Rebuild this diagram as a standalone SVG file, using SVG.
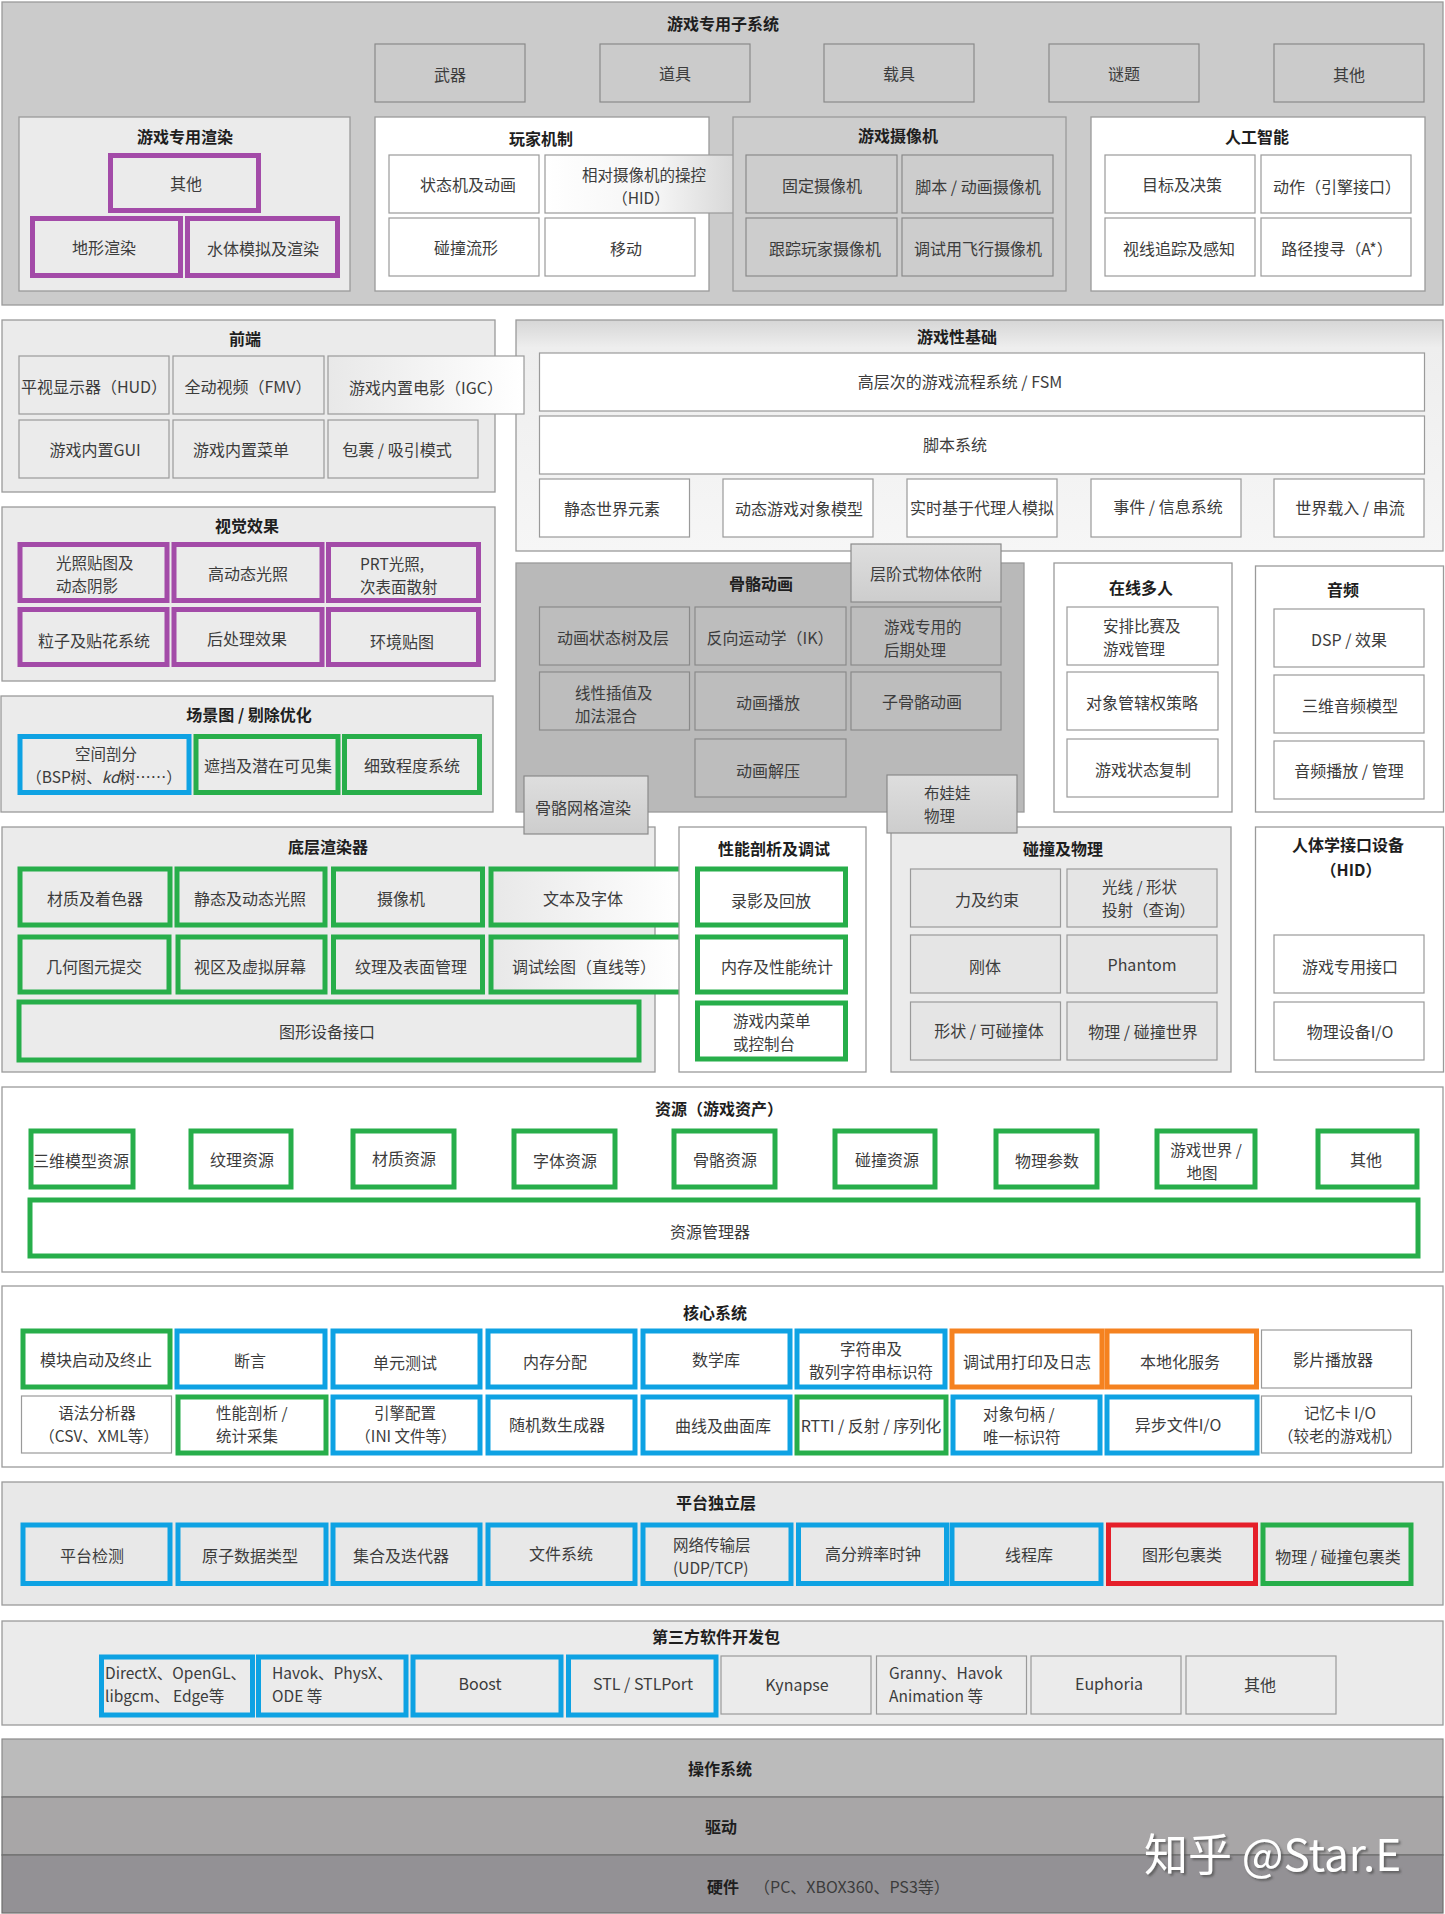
<svg xmlns="http://www.w3.org/2000/svg" width="1445" height="1914" viewBox="0 0 1445 1914">
<style>
text{font-family:"Noto Sans CJK SC","Noto Sans",sans-serif;font-size:16px;fill:#3c3c3c;text-anchor:middle;dominant-baseline:central}
.h{font-weight:bold;fill:#1e1e1e}
.l{text-anchor:start}
.m{font-size:15.5px}
.sec{stroke:#9a9a9a;stroke-width:1.3}
.box{stroke:#9a9a9a;stroke-width:1.2}
.dk{stroke:#8a8a8a;stroke-width:1.2}
.pu{stroke:#a34ba8;stroke-width:5}
.gr{stroke:#27ae4a;stroke-width:5}
.bl{stroke:#0ea2e3;stroke-width:5}
.or{stroke:#f58220;stroke-width:5}
.rd{stroke:#e51f2a;stroke-width:5}
.wm{font-size:44px;fill:#ffffff;text-anchor:start;filter:url(#sh)}
</style>
<defs>
<linearGradient id="gHID" x1="0" y1="0" x2="1" y2="0"><stop offset="0" stop-color="#ffffff"/><stop offset="0.6" stop-color="#f4f4f4"/><stop offset="1" stop-color="#d6d6d6"/></linearGradient>
<linearGradient id="gIGC" x1="0" y1="0" x2="1" y2="0"><stop offset="0" stop-color="#e8e8e8"/><stop offset="1" stop-color="#ffffff"/></linearGradient>
<linearGradient id="gGP" x1="0" y1="0" x2="0" y2="1"><stop offset="0" stop-color="#d6d6d6"/><stop offset="0.12" stop-color="#eeeeee"/><stop offset="1" stop-color="#f6f6f6"/></linearGradient>
<linearGradient id="gGy" x1="0" y1="0" x2="0" y2="1"><stop offset="0" stop-color="#dedede"/><stop offset="1" stop-color="#cdcdcd"/></linearGradient>
<linearGradient id="gTx" x1="0" y1="0" x2="1" y2="0"><stop offset="0" stop-color="#e8e8e8"/><stop offset="1" stop-color="#ffffff"/></linearGradient>
<filter id="sh" x="-10%" y="-20%" width="120%" height="150%"><feDropShadow dx="2" dy="2" stdDeviation="1" flood-color="#555555" flood-opacity="0.8"/></filter>
</defs>

<g id="game-subsystems">
<rect class="sec" x="2" y="2" width="1441" height="303" fill="#cbcbcb" stroke="#8e8e8e"/>
<text class="h" x="723" y="23">游戏专用子系统</text>
<g id="weapon"><rect class="dk" x="375" y="44" width="150" height="58" fill="#cbcbcb"/><text x="450" y="74">武器</text></g>
<g id="item"><rect class="dk" x="600" y="44" width="150" height="58" fill="#cbcbcb"/><text x="675" y="73">道具</text></g>
<g id="vehicle"><rect class="dk" x="824" y="44" width="150" height="58" fill="#cbcbcb"/><text x="899" y="73">载具</text></g>
<g id="puzzle"><rect class="dk" x="1049" y="44" width="150" height="58" fill="#cbcbcb"/><text x="1124" y="73">谜题</text></g>
<g id="other-top"><rect class="dk" x="1274" y="44" width="150" height="58" fill="#cbcbcb"/><text x="1349" y="74">其他</text></g>
</g>

<g id="game-rendering">
<rect class="sec" x="19" y="117" width="331" height="174" fill="#ebebeb"/>
<text class="h" x="185" y="136">游戏专用渲染</text>
<g id="render-other"><rect class="pu" x="110.5" y="155.5" width="148" height="55" fill="#ebebeb"/><text x="186" y="183">其他</text></g>
<g id="terrain"><rect class="pu" x="32.5" y="218.5" width="148" height="57" fill="#ebebeb"/><text x="104" y="247">地形渲染</text></g>
<g id="water"><rect class="pu" x="187.5" y="218.5" width="150" height="57" fill="#ebebeb"/><text x="263" y="248">水体模拟及渲染</text></g>
</g>

<g id="player-mechanics">
<rect class="sec" x="375" y="117" width="334" height="174" fill="#ffffff"/>
<text class="h" x="541" y="138">玩家机制</text>
<g id="state-machine"><rect class="box" x="389" y="155" width="150" height="58" fill="#ffffff"/><text x="468" y="184">状态机及动画</text></g>
<g id="camera-control"><rect class="box" x="545" y="155" width="193" height="58" fill="url(#gHID)"/><text class="m"><tspan x="644" y="174">相对摄像机的操控</tspan><tspan x="641" y="197">（HID）</tspan></text></g>
<g id="collision-manifold"><rect class="box" x="389" y="218" width="150" height="58" fill="#ffffff"/><text x="466" y="247">碰撞流形</text></g>
<g id="movement"><rect class="box" x="545" y="218" width="150" height="58" fill="#ffffff"/><text x="626" y="248">移动</text></g>
</g>

<g id="game-cameras">
<rect class="sec" x="733" y="117" width="333" height="174" fill="#cdcdcd"/>
<text class="h" x="898" y="135">游戏摄像机</text>
<g id="fixed-cam"><rect class="dk" x="746" y="155" width="151" height="58" fill="#cdcdcd"/><text x="822" y="185">固定摄像机</text></g>
<g id="script-cam"><rect class="dk" x="902" y="155" width="151" height="58" fill="#cdcdcd"/><text x="978" y="186">脚本 / 动画摄像机</text></g>
<g id="follow-cam"><rect class="dk" x="746" y="218" width="151" height="58" fill="#cdcdcd"/><text x="825" y="248">跟踪玩家摄像机</text></g>
<g id="debug-cam"><rect class="dk" x="902" y="218" width="151" height="58" fill="#cdcdcd"/><text x="978" y="248">调试用飞行摄像机</text></g>
</g>

<g id="ai">
<rect class="sec" x="1091" y="117" width="334" height="174" fill="#ffffff"/>
<text class="h" x="1257" y="136">人工智能</text>
<g id="goals"><rect class="box" x="1105" y="155" width="150" height="58" fill="#ffffff"/><text x="1182" y="184">目标及决策</text></g>
<g id="actions"><rect class="box" x="1261" y="155" width="150" height="58" fill="#ffffff"/><text x="1337" y="186">动作（引擎接口）</text></g>
<g id="sight"><rect class="box" x="1105" y="218" width="150" height="58" fill="#ffffff"/><text x="1179" y="248">视线追踪及感知</text></g>
<g id="pathfind"><rect class="box" x="1261" y="218" width="150" height="58" fill="#ffffff"/><text x="1337" y="248">路径搜寻（A*）</text></g>
</g>

<g id="gameplay-foundations">
<rect class="sec" x="516" y="320" width="927" height="231" fill="url(#gGP)"/>
<text class="h" x="957" y="336">游戏性基础</text>
<g id="fsm"><rect class="box" x="539.5" y="353" width="885" height="58" fill="#ffffff"/><text x="960" y="381">高层次的游戏流程系统 / FSM</text></g>
<g id="scripting"><rect class="box" x="539.5" y="416" width="885" height="58" fill="#ffffff"/><text x="955" y="444">脚本系统</text></g>
<g id="static-world"><rect class="box" x="539.5" y="479" width="150" height="58" fill="#ffffff"/><text x="612" y="508">静态世界元素</text></g>
<g id="dynamic-objects"><rect class="box" x="723" y="479" width="150" height="58" fill="#ffffff"/><text x="799" y="508">动态游戏对象模型</text></g>
<g id="agent-sim"><rect class="box" x="907" y="479" width="150" height="58" fill="#ffffff"/><text x="982" y="507">实时基于代理人模拟</text></g>
<g id="events"><rect class="box" x="1091" y="479" width="150" height="58" fill="#ffffff"/><text x="1168" y="506">事件 / 信息系统</text></g>
<g id="world-loading"><rect class="box" x="1274" y="479" width="150" height="58" fill="#ffffff"/><text x="1350" y="507">世界载入 / 串流</text></g>
</g>

<g id="front-end">
<rect class="sec" x="2" y="320" width="493" height="172" fill="#ebebeb"/>
<text class="h" x="245" y="338">前端</text>
<g id="hud"><rect class="box" x="19" y="356" width="150" height="58" fill="#ebebeb"/><text x="94" y="386">平视显示器（HUD）</text></g>
<g id="fmv"><rect class="box" x="173" y="356" width="151" height="58" fill="#ebebeb"/><text x="248" y="386">全动视频（FMV）</text></g>
<g id="igc"><rect class="box" x="328" y="356" width="196" height="58" fill="url(#gIGC)"/><text x="426" y="387">游戏内置电影（IGC）</text></g>
<g id="gui"><rect class="box" x="19" y="420" width="150" height="58" fill="#ebebeb"/><text x="95" y="449">游戏内置GUI</text></g>
<g id="menu"><rect class="box" x="173" y="420" width="151" height="58" fill="#ebebeb"/><text x="241" y="449">游戏内置菜单</text></g>
<g id="wrapper"><rect class="box" x="328" y="420" width="150" height="58" fill="#ebebeb"/><text x="397" y="449">包裹 / 吸引模式</text></g>
</g>

<g id="visual-effects">
<rect class="sec" x="2" y="507" width="493" height="174" fill="#ebebeb"/>
<text class="h" x="247" y="525">视觉效果</text>
<g id="lightmap"><rect class="pu" x="20" y="544.5" width="147" height="56" fill="#ebebeb"/><text class="l m"><tspan x="56" y="561.5">光照贴图及</tspan><tspan x="56" y="584.5">动态阴影</tspan></text></g>
<g id="hdr"><rect class="pu" x="174" y="544.5" width="148" height="56" fill="#ebebeb"/><text x="248" y="573">高动态光照</text></g>
<g id="prt"><rect class="pu" x="328.5" y="544.5" width="150" height="56" fill="#ebebeb"/><text class="l m"><tspan x="360" y="563">PRT光照,</tspan><tspan x="360" y="586">次表面散射</tspan></text></g>
<g id="particles"><rect class="pu" x="20" y="609.5" width="147" height="55" fill="#ebebeb"/><text x="94" y="640">粒子及贴花系统</text></g>
<g id="post"><rect class="pu" x="174" y="609.5" width="148" height="55" fill="#ebebeb"/><text x="247" y="638">后处理效果</text></g>
<g id="envmap"><rect class="pu" x="328.5" y="609.5" width="150" height="55" fill="#ebebeb"/><text x="402" y="641">环境贴图</text></g>
</g>

<g id="scene-graph">
<rect class="sec" x="1" y="696" width="492" height="116" fill="#ebebeb"/>
<text class="h" x="249" y="714">场景图 / 剔除优化</text>
<g id="spatial"><rect class="bl" x="20" y="736.5" width="169" height="56" fill="#ebebeb"/><text class="m"><tspan x="106" y="753">空间剖分</tspan><tspan x="104" y="776">（BSP树、<tspan font-style="italic">kd</tspan>树……）</tspan></text></g>
<g id="occlusion"><rect class="gr" x="196" y="736.5" width="142" height="56" fill="#ebebeb"/><text x="268" y="765">遮挡及潜在可见集</text></g>
<g id="lod"><rect class="gr" x="344.5" y="736.5" width="135" height="56" fill="#ebebeb"/><text x="412" y="765">细致程度系统</text></g>
</g>

<g id="skeletal-animation">
<rect class="sec" x="516" y="563" width="508" height="249" fill="#b9b9b9" stroke="#8a8a8a"/>
<text class="h" x="761" y="583">骨骼动画</text>
<g id="anim-tree"><rect class="dk" x="539.5" y="607" width="150" height="58" fill="#bdbdbd"/><text x="613" y="637">动画状态树及层</text></g>
<g id="ik"><rect class="dk" x="695" y="607" width="151" height="58" fill="#bdbdbd"/><text x="770" y="637">反向运动学（IK）</text></g>
<g id="post-proc"><rect class="dk" x="851" y="607" width="150" height="58" fill="#bdbdbd"/><text class="l m"><tspan x="884" y="625.5">游戏专用的</tspan><tspan x="884" y="648.5">后期处理</tspan></text></g>
<g id="lerp"><rect class="dk" x="539.5" y="672" width="150" height="58" fill="#bdbdbd"/><text class="l m"><tspan x="575" y="691.5">线性插值及</tspan><tspan x="575" y="714.5">加法混合</tspan></text></g>
<g id="playback"><rect class="dk" x="695" y="672" width="151" height="58" fill="#bdbdbd"/><text x="768" y="702">动画播放</text></g>
<g id="sub-skeletal"><rect class="dk" x="851" y="672" width="150" height="58" fill="#bdbdbd"/><text x="922" y="701">子骨骼动画</text></g>
<g id="decompress"><rect class="dk" x="695" y="739" width="151" height="58" fill="#bdbdbd"/><text x="768" y="770">动画解压</text></g>
<g id="hierarchy"><rect class="dk" x="851" y="544" width="150" height="58" fill="url(#gGy)"/><text x="926" y="573">层阶式物体依附</text></g>
</g>

<g id="online">
<rect class="sec" x="1054" y="563" width="178" height="249" fill="#ffffff"/>
<text class="h" x="1141" y="587">在线多人</text>
<g id="matchmaking"><rect class="box" x="1067" y="607" width="151" height="58" fill="#ffffff"/><text class="l m"><tspan x="1103" y="624.5">安排比赛及</tspan><tspan x="1103" y="647.5">游戏管理</tspan></text></g>
<g id="authority"><rect class="box" x="1067" y="672" width="151" height="58" fill="#ffffff"/><text x="1142" y="702">对象管辖权策略</text></g>
<g id="replication"><rect class="box" x="1067" y="739" width="151" height="58" fill="#ffffff"/><text x="1143" y="769">游戏状态复制</text></g>
</g>

<g id="audio">
<rect class="sec" x="1255.5" y="566" width="188" height="246" fill="#ffffff"/>
<text class="h" x="1343" y="589">音频</text>
<g id="dsp"><rect class="box" x="1274" y="609" width="150" height="58" fill="#ffffff"/><text x="1349" y="639">DSP / 效果</text></g>
<g id="audio3d"><rect class="box" x="1274" y="675" width="150" height="58" fill="#ffffff"/><text x="1350" y="705">三维音频模型</text></g>
<g id="audio-play"><rect class="box" x="1274" y="741" width="150" height="58" fill="#ffffff"/><text x="1349" y="770">音频播放 / 管理</text></g>
</g>

<g id="low-level-renderer">
<rect class="sec" x="2" y="827" width="653" height="245" fill="#ebebeb"/>
<text class="h" x="328" y="846">底层渲染器</text>
<g id="materials"><rect class="gr" x="20" y="869" width="150" height="56" fill="#ebebeb"/><text x="95" y="898">材质及着色器</text></g>
<g id="lighting"><rect class="gr" x="177" y="869" width="148" height="56" fill="#ebebeb"/><text x="250" y="898">静态及动态光照</text></g>
<g id="cameras"><rect class="gr" x="333.5" y="869" width="149" height="56" fill="#ebebeb"/><text x="401" y="898">摄像机</text></g>
<g id="text-fonts"><rect class="gr" x="491" y="869" width="192" height="56" fill="url(#gTx)"/><text x="583" y="898">文本及字体</text></g>
<g id="primitives"><rect class="gr" x="20" y="937" width="149" height="55" fill="#ebebeb"/><text x="94" y="966">几何图元提交</text></g>
<g id="viewports"><rect class="gr" x="178" y="937" width="147" height="55" fill="#ebebeb"/><text x="250" y="966">视区及虚拟屏幕</text></g>
<g id="textures"><rect class="gr" x="333.5" y="937" width="149" height="55" fill="#ebebeb"/><text x="411" y="966">纹理及表面管理</text></g>
<g id="debug-draw"><rect class="gr" x="491" y="937" width="192" height="55" fill="url(#gTx)"/><text x="584" y="966">调试绘图（直线等）</text></g>
<g id="gdi"><rect class="gr" x="19" y="1002" width="620" height="58" fill="#ebebeb"/><text x="327" y="1031">图形设备接口</text></g>
</g>

<g id="profiling">
<rect class="sec" x="679" y="827" width="187" height="245" fill="#ffffff"/>
<text class="h" x="774" y="848">性能剖析及调试</text>
<g id="recording"><rect class="gr" x="697.5" y="869" width="148" height="56" fill="#ffffff"/><text x="771" y="900">录影及回放</text></g>
<g id="mem-stats"><rect class="gr" x="697.5" y="937" width="148" height="55" fill="#ffffff"/><text x="777" y="966">内存及性能统计</text></g>
<g id="console"><rect class="gr" x="697.5" y="1003" width="148" height="56" fill="#ffffff"/><text class="l m"><tspan x="733" y="1019.5">游戏内菜单</tspan><tspan x="733" y="1042.5">或控制台</tspan></text></g>
</g>

<g id="collision-physics">
<rect class="sec" x="891" y="827" width="340" height="245" fill="#ebebeb"/>
<text class="h" x="1063" y="848">碰撞及物理</text>
<g id="forces"><rect class="box" x="910.5" y="869" width="150" height="58" fill="#e5e5e5"/><text x="987" y="899">力及约束</text></g>
<g id="raycast"><rect class="box" x="1067" y="869" width="150" height="58" fill="#e5e5e5"/><text class="l m"><tspan x="1102" y="886">光线 / 形状</tspan><tspan x="1102" y="909">投射（查询）</tspan></text></g>
<g id="rigid"><rect class="box" x="910.5" y="935" width="150" height="58" fill="#e5e5e5"/><text x="985" y="966">刚体</text></g>
<g id="phantom"><rect class="box" x="1067" y="935" width="150" height="58" fill="#e5e5e5"/><text x="1142" y="964">Phantom</text></g>
<g id="shapes"><rect class="box" x="910.5" y="1002" width="150" height="58" fill="#e5e5e5"/><text x="989" y="1030">形状 / 可碰撞体</text></g>
<g id="phys-world"><rect class="box" x="1067" y="1002" width="150" height="58" fill="#e5e5e5"/><text x="1143" y="1031">物理 / 碰撞世界</text></g>
</g>

<g id="hid">
<rect class="sec" x="1255.5" y="827" width="188" height="245" fill="#ffffff"/>
<text class="h"><tspan x="1348" y="844">人体学接口设备</tspan><tspan x="1351" y="869">（HID）</tspan></text>
<g id="game-if"><rect class="box" x="1274" y="935" width="150" height="58" fill="#ffffff"/><text x="1350" y="966">游戏专用接口</text></g>
<g id="phys-io"><rect class="box" x="1274" y="1002" width="150" height="58" fill="#ffffff"/><text x="1350" y="1031">物理设备I/O</text></g>
</g>

<g id="skinning"><rect class="dk" x="524" y="776" width="124" height="58" fill="url(#gGy)"/><text x="583" y="807">骨骼网格渲染</text></g>
<g id="ragdoll"><rect class="dk" x="887" y="775" width="130" height="58" fill="url(#gGy)"/><text class="l m"><tspan x="924" y="792">布娃娃</tspan><tspan x="924" y="815">物理</tspan></text></g>

<g id="resources">
<rect class="sec" x="2" y="1087" width="1441" height="185" fill="#ffffff"/>
<text class="h" x="719" y="1108">资源（游戏资产）</text>
<g id="res-model"><rect class="gr" x="31" y="1131" width="102" height="56" fill="#ffffff"/><text x="81" y="1160">三维模型资源</text></g>
<g id="res-texture"><rect class="gr" x="191" y="1131" width="100" height="56" fill="#ffffff"/><text x="242" y="1159">纹理资源</text></g>
<g id="res-material"><rect class="gr" x="353" y="1131" width="101" height="56" fill="#ffffff"/><text x="404" y="1158">材质资源</text></g>
<g id="res-font"><rect class="gr" x="514" y="1131" width="101" height="56" fill="#ffffff"/><text x="565" y="1160">字体资源</text></g>
<g id="res-skeleton"><rect class="gr" x="674" y="1131" width="101" height="56" fill="#ffffff"/><text x="725" y="1159">骨骼资源</text></g>
<g id="res-collision"><rect class="gr" x="835" y="1131" width="100" height="56" fill="#ffffff"/><text x="887" y="1159">碰撞资源</text></g>
<g id="res-physics"><rect class="gr" x="996" y="1131" width="101" height="56" fill="#ffffff"/><text x="1047" y="1160">物理参数</text></g>
<g id="res-world"><rect class="gr" x="1157" y="1131" width="98" height="56" fill="#ffffff"/><text class="m"><tspan x="1206" y="1148.5">游戏世界 /</tspan><tspan x="1202" y="1171.5">地图</tspan></text></g>
<g id="res-other"><rect class="gr" x="1318" y="1131" width="99" height="56" fill="#ffffff"/><text x="1366" y="1159">其他</text></g>
<g id="res-manager"><rect class="gr" x="30" y="1200" width="1388" height="56" fill="#ffffff"/><text x="710" y="1231">资源管理器</text></g>
</g>

<g id="core-systems">
<rect class="sec" x="2" y="1286" width="1441" height="181" fill="#ffffff"/>
<text class="h" x="715" y="1312">核心系统</text>
<g id="module-startup"><rect class="gr" x="23" y="1331" width="147" height="56" fill="#ffffff"/><text x="96" y="1359">模块启动及终止</text></g>
<g id="assert"><rect class="bl" x="177" y="1331" width="148" height="56" fill="#ffffff"/><text x="250" y="1360">断言</text></g>
<g id="unit-test"><rect class="bl" x="333" y="1331" width="147" height="56" fill="#ffffff"/><text x="405" y="1362">单元测试</text></g>
<g id="mem-alloc"><rect class="bl" x="488" y="1331" width="147" height="56" fill="#ffffff"/><text x="555" y="1361">内存分配</text></g>
<g id="math"><rect class="bl" x="643" y="1331" width="147" height="56" fill="#ffffff"/><text x="716" y="1359">数学库</text></g>
<g id="strings"><rect class="bl" x="797" y="1331" width="148" height="56" fill="#ffffff"/><text class="m"><tspan x="871" y="1347.5">字符串及</tspan><tspan x="871" y="1370.5">散列字符串标识符</tspan></text></g>
<g id="debug-print"><rect class="or" x="952" y="1331" width="150" height="56" fill="#ffffff"/><text x="1027" y="1361">调试用打印及日志</text></g>
<g id="localization"><rect class="or" x="1107" y="1331" width="149.5" height="56" fill="#ffffff"/><text x="1180" y="1361">本地化服务</text></g>
<g id="movie"><rect class="box" x="1261.5" y="1330" width="150" height="58" fill="#ffffff"/><text x="1333" y="1359">影片播放器</text></g>
<g id="parsers"><rect class="box" x="21.5" y="1396" width="150" height="57" fill="#ffffff"/><text class="m"><tspan x="97" y="1411.5">语法分析器</tspan><tspan x="99" y="1434.5">（CSV、XML等）</tspan></text></g>
<g id="profiling-core"><rect class="gr" x="178" y="1397" width="148" height="56" fill="#ffffff"/><text class="l m"><tspan x="216" y="1411.5">性能剖析 /</tspan><tspan x="216" y="1434.5">统计采集</tspan></text></g>
<g id="config"><rect class="bl" x="333" y="1397" width="147" height="56" fill="#ffffff"/><text class="m"><tspan x="405" y="1411.5">引擎配置</tspan><tspan x="406" y="1434.5">（INI 文件等）</tspan></text></g>
<g id="rng"><rect class="bl" x="488" y="1397" width="147" height="56" fill="#ffffff"/><text x="557" y="1424">随机数生成器</text></g>
<g id="curves"><rect class="bl" x="643" y="1397" width="147" height="56" fill="#ffffff"/><text x="723" y="1425">曲线及曲面库</text></g>
<g id="rtti"><rect class="gr" x="797" y="1397" width="149" height="56" fill="#ffffff"/><text x="871" y="1425">RTTI / 反射 / 序列化</text></g>
<g id="handles"><rect class="bl" x="953" y="1397" width="147" height="56" fill="#ffffff"/><text class="l m"><tspan x="983" y="1413">对象句柄 /</tspan><tspan x="983" y="1436">唯一标识符</tspan></text></g>
<g id="async-io"><rect class="bl" x="1107" y="1397" width="150" height="56" fill="#ffffff"/><text x="1178" y="1424">异步文件I/O</text></g>
<g id="memcard"><rect class="box" x="1261.5" y="1396" width="150" height="57" fill="#ffffff"/><text class="m"><tspan x="1340" y="1411.5">记忆卡 I/O</tspan><tspan x="1340" y="1434.5">（较老的游戏机）</tspan></text></g>
</g>

<g id="platform-independence">
<rect class="sec" x="2" y="1482" width="1441" height="123" fill="#e8e8e8"/>
<text class="h" x="716" y="1502">平台独立层</text>
<g id="platform-detect"><rect class="bl" x="23" y="1525" width="147" height="58.5" fill="#e8e8e8"/><text x="92" y="1555">平台检测</text></g>
<g id="atomic-types"><rect class="bl" x="178" y="1525" width="148" height="58.5" fill="#e8e8e8"/><text x="250" y="1555">原子数据类型</text></g>
<g id="collections"><rect class="bl" x="333" y="1525" width="147" height="58.5" fill="#e8e8e8"/><text x="401" y="1555">集合及迭代器</text></g>
<g id="filesystem"><rect class="bl" x="488" y="1525" width="147" height="58.5" fill="#e8e8e8"/><text x="561" y="1553">文件系统</text></g>
<g id="network"><rect class="bl" x="643" y="1525" width="148" height="58.5" fill="#e8e8e8"/><text class="l m"><tspan x="673" y="1543.5">网络传输层</tspan><tspan x="673" y="1566.5">(UDP/TCP)</tspan></text></g>
<g id="hires-clock"><rect class="bl" x="798.5" y="1525" width="148" height="58.5" fill="#e8e8e8"/><text x="873" y="1553">高分辨率时钟</text></g>
<g id="threading"><rect class="bl" x="952" y="1525" width="149" height="58.5" fill="#e8e8e8"/><text x="1029" y="1554">线程库</text></g>
<g id="graphics-wrap"><rect class="rd" x="1108.5" y="1525" width="147" height="58.5" fill="#e8e8e8"/><text x="1182" y="1554">图形包裹类</text></g>
<g id="physics-wrap"><rect class="gr" x="1263" y="1525" width="148" height="58.5" fill="#e8e8e8"/><text x="1338" y="1556">物理 / 碰撞包裹类</text></g>
</g>

<g id="third-party-sdks">
<rect class="sec" x="2" y="1621" width="1441" height="104" fill="#ebebeb"/>
<text class="h" x="716" y="1636">第三方软件开发包</text>
<g id="directx"><rect class="bl" x="101.5" y="1657" width="151" height="58" fill="#ebebeb"/><text class="l m"><tspan x="105" y="1672">DirectX、OpenGL、</tspan><tspan x="105" y="1695">libgcm、 Edge等</tspan></text></g>
<g id="havok"><rect class="bl" x="258.5" y="1657" width="147.5" height="58" fill="#ebebeb"/><text class="l m"><tspan x="272" y="1672">Havok、PhysX、</tspan><tspan x="272" y="1695">ODE 等</tspan></text></g>
<g id="boost"><rect class="bl" x="413" y="1657" width="148" height="58" fill="#ebebeb"/><text x="480" y="1683">Boost</text></g>
<g id="stl"><rect class="bl" x="568.5" y="1657" width="147.5" height="58" fill="#ebebeb"/><text x="643" y="1683">STL / STLPort</text></g>
<g id="kynapse"><rect class="box" x="721" y="1656" width="150" height="58" fill="#ebebeb"/><text x="797" y="1684">Kynapse</text></g>
<g id="granny"><rect class="box" x="876.5" y="1656" width="150" height="58" fill="#ebebeb"/><text class="l m"><tspan x="889" y="1672">Granny、Havok</tspan><tspan x="889" y="1695">Animation 等</tspan></text></g>
<g id="euphoria"><rect class="box" x="1031" y="1656" width="150" height="58" fill="#ebebeb"/><text x="1109" y="1683">Euphoria</text></g>
<g id="sdk-other"><rect class="box" x="1186" y="1656" width="150" height="58" fill="#ebebeb"/><text x="1260" y="1684">其他</text></g>
</g>

<g id="os"><rect x="2" y="1739" width="1441" height="58" fill="#bbbbbb" stroke="#8a8a8a" stroke-width="1.2"/><text class="h" x="720" y="1768">操作系统</text></g>
<g id="drivers"><rect x="2" y="1797" width="1441" height="58" fill="#a8a6a7" stroke="#6e6e6e" stroke-width="1.2"/><text class="h" x="721" y="1826">驱动</text></g>
<g id="hardware"><rect x="2" y="1855" width="1441" height="58" fill="#939195" stroke="#6e6e6e" stroke-width="1.2"/><text class="h" x="723" y="1886">硬件<tspan font-weight="normal" fill="#3c3c3c" x="754" style="text-anchor:start">（PC、XBOX360、PS3等）</tspan></text></g>

<g id="connectors"></g>

<text class="wm" x="1144" y="1852">知乎 @Star.E</text>
</svg>
